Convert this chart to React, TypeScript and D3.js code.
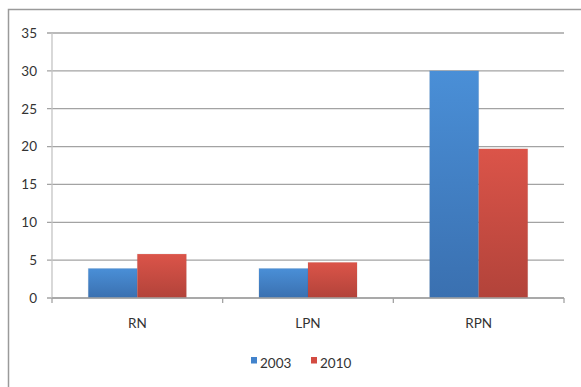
import React from "react";
import * as d3 from "d3";

const categories = ["RN", "LPN", "RPN"];
const seriesNames = ["2003", "2010"];
const values2003 = [3.9, 3.9, 30];
const values2010 = [5.8, 4.7, 19.7];
const yTicks = [0, 5, 10, 15, 20, 25, 30, 35];

const W = 581;
const H = 387;
const left = 52;
const right = 564;
const top = 33;
const bottom = 298;

const FONT = "Lato, 'Liberation Sans', sans-serif";

export default function App() {
  const x = d3.scaleBand<string>().domain(categories).range([left, right]).padding(0);
  const xs = d3
    .scaleBand<string>()
    .domain(seriesNames)
    .range([0, x.bandwidth()])
    .paddingInner(0)
    .paddingOuter(0.74);
  const y = d3.scaleLinear().domain([0, 35]).range([bottom, top]);

  const series = [
    { name: "2003", values: values2003, grad: "gBlue" },
    { name: "2010", values: values2010, grad: "gRed" },
  ];

  return (
    <svg
      width={W}
      height={H}
      style={{ position: "absolute", left: 0, top: 0, background: "#fff" }}
    >
      <defs>
        <linearGradient id="gBlue" x1="0" y1="0" x2="0" y2="1">
          <stop offset="0" stopColor="#4a8fd7" />
          <stop offset="1" stopColor="#3a70b0" />
        </linearGradient>
        <linearGradient id="gRed" x1="0" y1="0" x2="0" y2="1">
          <stop offset="0" stopColor="#db5449" />
          <stop offset="1" stopColor="#b2433a" />
        </linearGradient>
        <filter id="soft" x="-10%" y="-10%" width="120%" height="120%">
          <feGaussianBlur stdDeviation="0.5" />
        </filter>
      </defs>

      {/* chart frame */}
      <rect x={8.5} y={9.5} width={W + 20} height={H + 20} fill="none" stroke="#9a9a9a" strokeWidth={1.5} />

      {/* gridlines and y ticks */}
      {yTicks.map((t) => (
        <g key={t}>
          <line x1={left - 5} x2={right} y1={y(t)} y2={y(t)} stroke="#a3a3a3" strokeWidth={1.3} />
          <text
            x={37}
            y={y(t)}
            dy="0.36em"
            textAnchor="end"
            fontFamily={FONT}
            fontSize={13.5}
            fill="#333"
          >
            {t}
          </text>
        </g>
      ))}

      {/* y axis */}
      <line x1={left} x2={left} y1={top} y2={bottom} stroke="#c4c4c4" strokeWidth={1.3} />

      {/* bars */}
      {series.map((s) =>
        categories.map((c, i) => {
          const bx = (x(c) as number) + (xs(s.name) as number);
          const by = y(s.values[i]);
          return (
            <g key={s.name + c}>
              <rect
                x={bx - 0.5}
                y={by - 0.5}
                width={xs.bandwidth() + 1}
                height={bottom - by + 0.5}
                fill="#000"
                opacity={0.08}
                filter="url(#soft)"
              />
              <rect x={bx} y={by} width={xs.bandwidth()} height={bottom - by} fill={`url(#${s.grad})`} />
            </g>
          );
        })
      )}

      {/* x axis */}
      <line x1={left} x2={right} y1={bottom} y2={bottom} stroke="#a3a3a3" strokeWidth={1.3} />
      {[...categories.map((c) => x(c) as number), right].map((tx, i) => (
        <line key={i} x1={tx} x2={tx} y1={bottom} y2={bottom + 5} stroke="#a3a3a3" strokeWidth={1.3} />
      ))}
      {categories.map((c) => (
        <text
          key={c}
          x={(x(c) as number) + x.bandwidth() / 2}
          y={bottom + 25}
          dy="0.36em"
          textAnchor="middle"
          fontFamily={FONT}
          fontSize={13.5}
          fill="#333"
        >
          {c}
        </text>
      ))}

      {/* legend */}
      {[
        { name: "2003", color: "#4283cc", x: 251 },
        { name: "2010", color: "#d34b42", x: 311 },
      ].map((l) => (
        <g key={l.name}>
          <rect x={l.x} y={357} width={6} height={6.5} fill={l.color} />
          <text x={l.x + 9} y={368} fontFamily={FONT} fontSize={13.5} fill="#333">
            {l.name}
          </text>
        </g>
      ))}
    </svg>
  );
}
